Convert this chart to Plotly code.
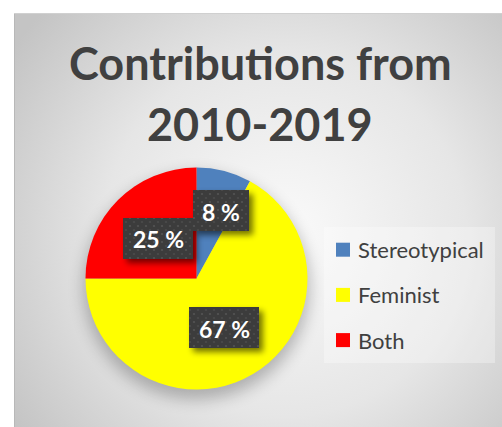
import base64
import plotly.graph_objects as go

# Data
labels = ["Stereotypical", "Feminist", "Both"]
values = [8, 67, 25]
colors = ["#4f81bd", "#ffff00", "#ff0000"]
title_lines = ["Contributions from", "2010-2019"]

W, H = 502, 427
FONT = "Lato"
TEXT_DARK = "#404040"

# Pie placement (pixels): centre and radius
PIE_CX, PIE_CY, PIE_R = 196.5, 278.5, 111

# Data-label boxes (pixels), one per slice in slice order: left, top, width, height
label_boxes = [(193, 190, 56, 41), (189, 307, 70, 41), (123, 218, 70, 41)]

# Title line centres (pixels)
title_y = [63, 124]

# Legend layout (pixels)
LEG_SQ_X, LEG_SQ = 336, 14
LEG_Y0, LEG_DY = 249.7, 45.2
LEG_TXT_X = 356


def px(x):
    return x / W


def py(y):
    return 1 - y / H


def svg_uri(svg):
    return "data:image/svg+xml;base64," + base64.b64encode(svg.encode()).decode()


# Chart-area background with radial gradient, pie shadow, legend panel
bg_svg = f"""<svg xmlns="http://www.w3.org/2000/svg" width="{W}" height="{H}" viewBox="0 0 {W} {H}">
<defs>
 <radialGradient id="g" gradientUnits="userSpaceOnUse" cx="285" cy="235" r="330">
  <stop offset="0" stop-color="#fafafa"/>
  <stop offset="0.55" stop-color="#e6e6e6"/>
  <stop offset="1" stop-color="#c4c4c4"/>
 </radialGradient>
 <filter id="blur" x="-50%" y="-50%" width="200%" height="200%">
  <feGaussianBlur stdDeviation="8"/>
 </filter>
</defs>
<rect x="14" y="13" width="{W - 14}" height="{H - 13}" fill="url(#g)"/>
<line x1="14.5" y1="13" x2="14.5" y2="{H}" stroke="#b8b8b8" stroke-width="1"/>
<line x1="14" y1="13.5" x2="{W}" y2="13.5" stroke="#d0d0d0" stroke-width="1"/>
<circle cx="{PIE_CX}" cy="{PIE_CY + 8}" r="{PIE_R + 2}" fill="#000" opacity="0.25" filter="url(#blur)"/>
<rect x="324" y="227" width="171" height="136" fill="#ffffff" opacity="0.3"/>
</svg>"""

# Data-label boxes with a dotted texture and a soft drop shadow
box_parts = []
for (bx, by, bw, bh) in label_boxes:
    box_parts.append(
        f'<rect x="{bx + 4}" y="{by + 4}" width="{bw}" height="{bh}" fill="#000" '
        f'opacity="0.55" filter="url(#sh)"/>'
    )
for (bx, by, bw, bh) in label_boxes:
    box_parts.append(f'<rect x="{bx}" y="{by}" width="{bw}" height="{bh}" fill="url(#dots)"/>')

box_svg = f"""<svg xmlns="http://www.w3.org/2000/svg" width="{W}" height="{H}" viewBox="0 0 {W} {H}">
<defs>
 <filter id="sh" x="-50%" y="-50%" width="200%" height="200%">
  <feGaussianBlur stdDeviation="3"/>
 </filter>
 <pattern id="dots" width="8" height="8" patternUnits="userSpaceOnUse">
  <rect width="8" height="8" fill="#3c3c3c"/>
  <circle cx="2" cy="2" r="1.1" fill="#535353"/>
  <circle cx="6" cy="6" r="1.1" fill="#4b4b4b"/>
 </pattern>
</defs>
{''.join(box_parts)}
</svg>"""

fig = go.Figure(
    go.Pie(
        labels=labels,
        values=values,
        sort=False,
        direction="clockwise",
        rotation=0,
        marker=dict(colors=colors, line=dict(width=0)),
        textinfo="none",
        hoverinfo="label+percent",
        showlegend=False,
        domain=dict(
            x=[px(PIE_CX - PIE_R), px(PIE_CX + PIE_R)],
            y=[py(PIE_CY + PIE_R), py(PIE_CY - PIE_R)],
        ),
    )
)

images = [
    dict(source=svg_uri(bg_svg), xref="paper", yref="paper", x=0, y=1,
         sizex=1, sizey=1, sizing="stretch", xanchor="left", yanchor="top", layer="below"),
    dict(source=svg_uri(box_svg), xref="paper", yref="paper", x=0, y=1,
         sizex=1, sizey=1, sizing="stretch", xanchor="left", yanchor="top", layer="above"),
]

annotations = []
# Title, one line per annotation
for line, ty in zip(title_lines, title_y):
    annotations.append(dict(
        text=line, x=px(260), y=py(ty), xref="paper", yref="paper",
        xanchor="center", yanchor="middle", showarrow=False,
        font=dict(family=FONT, size=45, color=TEXT_DARK, weight="bold"),
    ))
# Percentage labels
total = sum(values)
for v, (bx, by, bw, bh) in zip(values, label_boxes):
    annotations.append(dict(
        text=f"{round(100 * v / total)} %", x=px(bx + bw / 2), y=py(by + bh / 2 + 1),
        xref="paper", yref="paper", xanchor="center", yanchor="middle", showarrow=False,
        font=dict(family=FONT, size=23, color="#ffffff", weight="bold"),
    ))

# Legend entries
shapes = []
for i, (lab, col) in enumerate(zip(labels, colors)):
    cy = LEG_Y0 + i * LEG_DY
    shapes.append(dict(
        type="rect", xref="paper", yref="paper",
        x0=px(LEG_SQ_X), x1=px(LEG_SQ_X + LEG_SQ),
        y0=py(cy + LEG_SQ / 2), y1=py(cy - LEG_SQ / 2),
        fillcolor=col, line=dict(width=0),
    ))
    annotations.append(dict(
        text=lab, x=px(LEG_TXT_X), y=py(cy), xref="paper", yref="paper",
        xanchor="left", yanchor="middle", showarrow=False,
        font=dict(family=FONT, size=22, color=TEXT_DARK),
    ))

fig.update_layout(
    width=W, height=H,
    margin=dict(l=0, r=0, t=0, b=0),
    paper_bgcolor="#ffffff",
    plot_bgcolor="#ffffff",
    images=images,
    annotations=annotations,
    shapes=shapes,
)

fig.write_html("out.html")
